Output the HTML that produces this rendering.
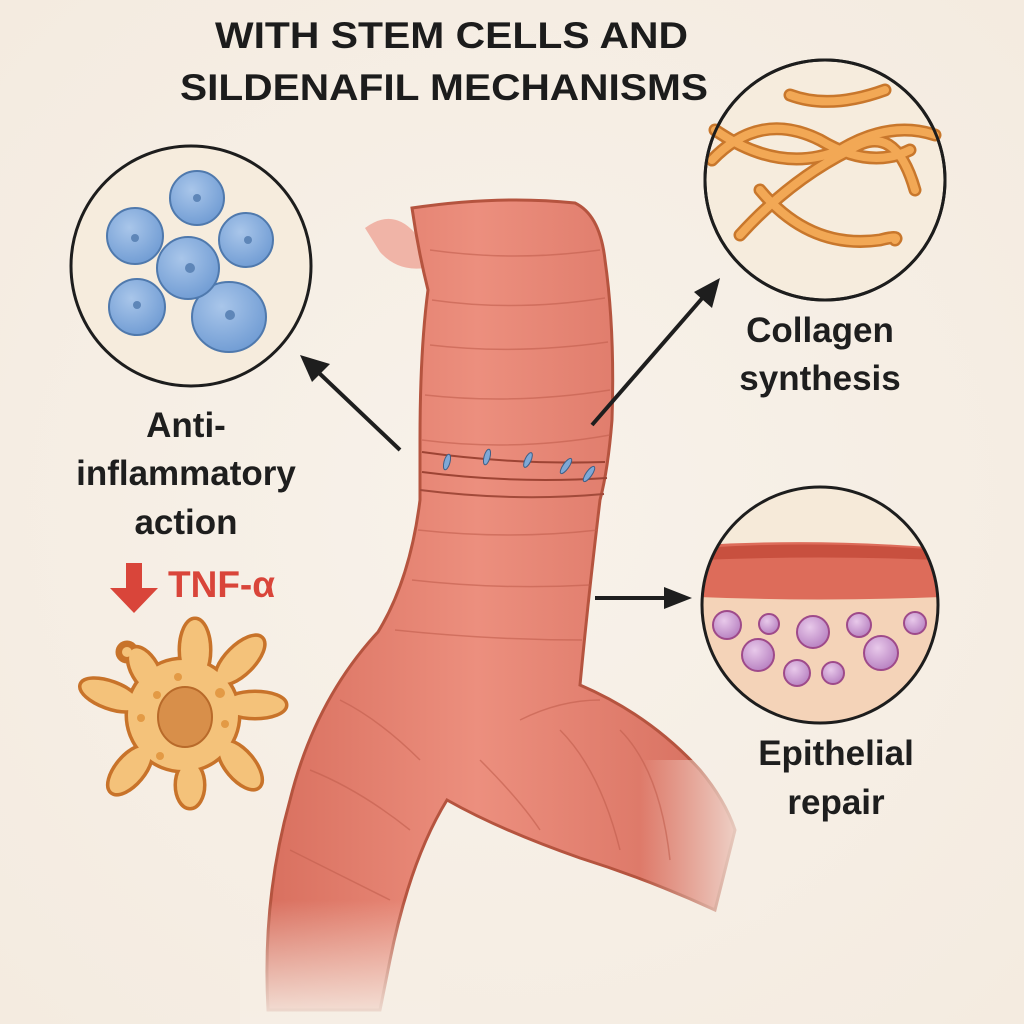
<!DOCTYPE html>
<html><head><meta charset="utf-8"><style>
html,body{margin:0;padding:0;background:#f7f0e7}
svg{display:block}
text{font-family:"Liberation Sans",sans-serif;font-weight:bold}
</style></head><body>
<svg width="1024" height="1024" viewBox="0 0 1024 1024" xmlns="http://www.w3.org/2000/svg">
<defs>
<radialGradient id="bg" cx="50%" cy="50%" r="70%"><stop offset="0" stop-color="#f8f2ea"/><stop offset="1" stop-color="#f4ebe0"/></radialGradient>
<linearGradient id="tr" x1="0" x2="1" y1="0" y2="0"><stop offset="0" stop-color="#d9705f"/><stop offset="0.45" stop-color="#ec8f7e"/><stop offset="1" stop-color="#d66e5e"/></linearGradient>
<radialGradient id="cell" cx="40%" cy="35%" r="70%"><stop offset="0" stop-color="#a9c6ea"/><stop offset="1" stop-color="#6f9bd3"/></radialGradient>
<radialGradient id="pc" cx="40%" cy="35%" r="70%"><stop offset="0" stop-color="#e8c9ea"/><stop offset="1" stop-color="#b67fc0"/></radialGradient>
<linearGradient id="fd" x1="0" y1="0" x2="0" y2="1"><stop offset="0" stop-color="#f6eee5" stop-opacity="0"/><stop offset="1" stop-color="#f6eee5" stop-opacity="0.95"/></linearGradient>
<linearGradient id="fr" x1="0" y1="0" x2="1" y2="0"><stop offset="0" stop-color="#f6eee5" stop-opacity="0"/><stop offset="1" stop-color="#f6eee5" stop-opacity="0.95"/></linearGradient>
</defs>
<rect width="1024" height="1024" fill="url(#bg)"/>

<text x="215" y="48" font-size="37" textLength="473" lengthAdjust="spacingAndGlyphs" fill="#1c1c1c">WITH STEM CELLS AND</text>
<text x="180" y="100" font-size="37" textLength="528" lengthAdjust="spacingAndGlyphs" fill="#1c1c1c">SILDENAFIL MECHANISMS</text>

<!-- trachea -->
<g>
<path d="M365,228 Q392,208 414,232 L425,268 Q398,272 380,252 Z" fill="#eea091" opacity="0.75"/>
<path d="M412,208 Q500,195 575,203 Q600,215 605,260 Q615,330 612,420 Q608,470 600,500 Q588,600 580,685 Q650,715 700,770 Q725,800 735,830 L715,910 Q650,880 580,858 Q500,830 447,800 Q410,860 390,960 L380,1010 L268,1010 Q262,900 290,800 Q315,700 378,632 Q410,580 420,500 L420,440 Q420,350 428,290 Q418,250 412,208 Z"
 fill="url(#tr)" stroke="#b5543f" stroke-width="3"/>
<rect x="240" y="900" width="200" height="124" fill="url(#fd)"/>
<rect x="640" y="760" width="120" height="160" fill="url(#fr)"/>
<g stroke="#c25f4e" stroke-width="1.5" fill="none" opacity="0.6">
<path d="M430,250 Q515,262 600,250"/><path d="M432,300 Q515,312 605,298"/><path d="M430,345 Q515,355 608,342"/><path d="M425,395 Q515,405 610,390"/>
<path d="M422,440 Q515,452 610,435"/><path d="M418,530 Q510,540 598,530"/><path d="M412,580 Q500,590 590,585"/><path d="M395,630 Q490,640 582,640"/>
<path d="M340,700 Q380,720 420,760"/><path d="M310,770 Q360,790 410,830"/><path d="M290,850 Q330,870 390,900"/>
<path d="M480,760 Q520,800 540,830"/><path d="M560,730 Q600,770 620,850"/><path d="M620,730 Q660,770 670,860"/><path d="M520,720 Q560,700 600,700"/>
</g>
<path d="M422,452 Q515,465 605,462" stroke="#9d4434" stroke-width="2" fill="none"/>
<path d="M422,472 Q515,484 607,478" stroke="#9d4434" stroke-width="2" fill="none"/>
<path d="M420,490 Q515,502 604,494" stroke="#a24a3a" stroke-width="2" fill="none"/>
<g fill="#7fa8d6" stroke="#3e5f86" stroke-width="1">
<ellipse cx="447" cy="462" rx="3" ry="8" transform="rotate(15 447 462)"/>
<ellipse cx="487" cy="457" rx="3" ry="8" transform="rotate(15 487 457)"/>
<ellipse cx="528" cy="460" rx="3" ry="8" transform="rotate(25 528 460)"/>
<ellipse cx="566" cy="466" rx="3" ry="9" transform="rotate(35 566 466)"/>
<ellipse cx="589" cy="474" rx="3" ry="9" transform="rotate(35 589 474)"/>
</g>
</g>

<!-- arrows -->
<g stroke="#1e1e1e" stroke-width="4" fill="#1e1e1e">
<line x1="400" y1="450" x2="318" y2="372"/><polygon points="300,355 330,364 312,382" stroke="none"/>
<line x1="592" y1="425" x2="705" y2="295"/><polygon points="720,278 712,308 694,292" stroke="none"/>
<line x1="595" y1="598" x2="672" y2="598"/><polygon points="692,598 664,587 664,609" stroke="none"/>
</g>

<!-- left circle -->
<circle cx="191" cy="266" r="120" fill="#f6ecdd" stroke="#1d1d1d" stroke-width="3"/>
<g stroke="#4f79ad" stroke-width="2" fill="url(#cell)">
<circle cx="197" cy="198" r="27"/><circle cx="135" cy="236" r="28"/><circle cx="246" cy="240" r="27"/>
<circle cx="137" cy="307" r="28"/><ellipse cx="229" cy="317" rx="37" ry="35"/><circle cx="188" cy="268" r="31"/>
</g>
<g fill="#5e86b8"><circle cx="197" cy="198" r="4"/><circle cx="135" cy="238" r="4"/><circle cx="248" cy="240" r="4"/><circle cx="137" cy="305" r="4"/><circle cx="230" cy="315" r="5"/><circle cx="190" cy="268" r="5"/></g>

<!-- top right circle -->
<circle cx="825" cy="180" r="120" fill="#f6ecdd" stroke="#1d1d1d" stroke-width="3"/>
<g fill="none" stroke-linecap="round">
<g stroke="#c8772c" stroke-width="13">
<path d="M712,160 Q760,110 820,140 Q870,170 910,150"/>
<path d="M715,130 Q780,175 840,150 Q890,120 935,135"/>
<path d="M740,235 Q790,180 850,150 Q895,120 915,190"/>
<path d="M760,190 Q810,250 880,240 Q900,235 895,240"/>
<path d="M790,95 Q830,110 885,90"/>
</g>
<g stroke="#f2a855" stroke-width="8">
<path d="M712,160 Q760,110 820,140 Q870,170 910,150"/>
<path d="M715,130 Q780,175 840,150 Q890,120 935,135"/>
<path d="M740,235 Q790,180 850,150 Q895,120 915,190"/>
<path d="M760,190 Q810,250 880,240 Q900,235 895,240"/>
<path d="M790,95 Q830,110 885,90"/>
</g></g>
<circle cx="825" cy="180" r="120" fill="none" stroke="#1d1d1d" stroke-width="3"/>

<!-- bottom right circle -->
<clipPath id="c3"><circle cx="820" cy="605" r="118"/></clipPath>
<circle cx="820" cy="605" r="118" fill="#f6ead9"/>
<g clip-path="url(#c3)">
<rect x="700" y="596" width="240" height="130" fill="#f4d3b8"/>
<path d="M700,545 Q820,538 940,548 L940,597 Q820,602 700,597 Z" fill="#dd6c5a"/>
<path d="M700,548 Q820,540 940,550 L940,560 Q820,555 700,560 Z" fill="#c8503f"/>
<g stroke="#9e4a8a" stroke-width="2" fill="url(#pc)">
<circle cx="727" cy="625" r="14"/><circle cx="769" cy="624" r="10"/><circle cx="813" cy="632" r="16"/><circle cx="859" cy="625" r="12"/><circle cx="915" cy="623" r="11"/>
<circle cx="758" cy="655" r="16"/><circle cx="881" cy="653" r="17"/><circle cx="797" cy="673" r="13"/><circle cx="833" cy="673" r="11"/>
</g>
</g>
<circle cx="820" cy="605" r="118" fill="none" stroke="#1d1d1d" stroke-width="3"/>

<!-- labels -->
<g font-size="35" fill="#1e1e1e" text-anchor="middle">
<text x="820" y="342">Collagen</text><text x="820" y="390">synthesis</text>
<text x="186" y="437">Anti-</text><text x="186" y="485">inflammatory</text><text x="186" y="534">action</text>
<text x="836" y="765">Epithelial</text><text x="836" y="814">repair</text>
</g>
<polygon points="126,563 142,563 142,588 158,588 134,613 110,588 126,588" fill="#d9453a"/>
<text x="168" y="597" font-size="37" fill="#d9453a">TNF-α</text>

<!-- macrophage -->
<g>
<g stroke="#c8732a" stroke-width="7" fill="#c8732a">
<circle cx="183" cy="715" r="55"/>
<ellipse cx="195" cy="650" rx="14" ry="30"/><ellipse cx="240" cy="660" rx="13" ry="30" transform="rotate(45 240 660)"/>
<ellipse cx="255" cy="705" rx="30" ry="12"/><ellipse cx="240" cy="765" rx="13" ry="28" transform="rotate(-40 240 765)"/>
<ellipse cx="190" cy="785" rx="13" ry="22"/><ellipse cx="130" cy="770" rx="13" ry="28" transform="rotate(40 130 770)"/>
<ellipse cx="110" cy="695" rx="30" ry="12" transform="rotate(20 110 695)"/><ellipse cx="145" cy="670" rx="12" ry="24" transform="rotate(-30 145 670)"/>
<circle cx="127" cy="652" r="8"/>
</g>
<g fill="#f4c27a">
<circle cx="183" cy="715" r="55"/>
<ellipse cx="195" cy="650" rx="14" ry="30"/><ellipse cx="240" cy="660" rx="13" ry="30" transform="rotate(45 240 660)"/>
<ellipse cx="255" cy="705" rx="30" ry="12"/><ellipse cx="240" cy="765" rx="13" ry="28" transform="rotate(-40 240 765)"/>
<ellipse cx="190" cy="785" rx="13" ry="22"/><ellipse cx="130" cy="770" rx="13" ry="28" transform="rotate(40 130 770)"/>
<ellipse cx="110" cy="695" rx="30" ry="12" transform="rotate(20 110 695)"/><ellipse cx="145" cy="670" rx="12" ry="24" transform="rotate(-30 145 670)"/>
<circle cx="127" cy="652" r="5"/>
</g>
<ellipse cx="185" cy="717" rx="27" ry="30" fill="#d88f4a" stroke="#b86a2a" stroke-width="2"/>
<g fill="#e39a45"><circle cx="178" cy="677" r="4"/><circle cx="220" cy="693" r="5"/><circle cx="225" cy="724" r="4"/><circle cx="157" cy="695" r="4"/><circle cx="141" cy="718" r="4"/><circle cx="160" cy="756" r="4"/></g>
</g>
</svg>
</body></html>
